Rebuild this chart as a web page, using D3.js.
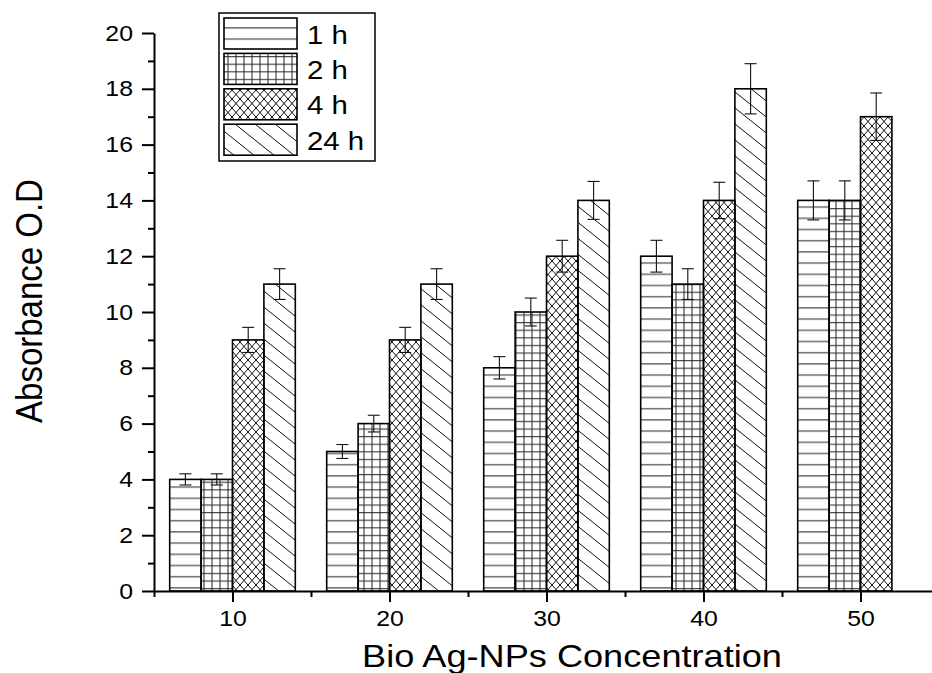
<!DOCTYPE html>
<html>
<head>
<meta charset="utf-8">
<script src="https://cdn.jsdelivr.net/npm/d3@7"></script>
<style>
  html, body { margin: 0; padding: 0; background: #fff; }
  svg { display: block; font-family: "Liberation Sans", Arial, sans-serif; }
</style>
</head>
<body>
<div id="chart"></div>
<script>
// data
const concentrations = [10, 20, 30, 40, 50];
const seriesNames = ["1 h", "2 h", "4 h", "24 h"];
const values1h = [4, 5, 8, 12, 14];
const values2h = [4, 6, 10, 11, 14];
const values4h = [9, 9, 12, 14, 17];
const values24h = [11, 11, 14, 18, null];
const err1h = [0.2, 0.25, 0.4, 0.57, 0.7];
const err2h = [0.2, 0.3, 0.5, 0.55, 0.7];
const err4h = [0.45, 0.45, 0.57, 0.65, 0.85];
const err24h = [0.55, 0.55, 0.68, 0.9, null];
const yTicks = [0, 2, 4, 6, 8, 10, 12, 14, 16, 18, 20];
const yMinorTicks = [1, 3, 5, 7, 9, 11, 13, 15, 17, 19];
const xMinorTicks = [5, 15, 25, 35, 45, 55];

const width = 932, height = 673,
    stretch = 1.13; // the original picture is a bit wider than tall

const allValues = [values1h, values2h, values4h, values24h];
const allErrors = [err1h, err2h, err4h, err24h];
const patternIds = ["pat1h", "pat2h", "pat4h", "pat24h"];

let svg = d3.select("#chart")
  .append("svg")
  .attr("width", width)
  .attr("height", height);

// scales
let x = d3.scaleLinear().domain([5, 55]).range([154, 939]);
let y = d3.scaleLinear().domain([0, 20]).range([591, 33]);
const barW = x(2) - x(0);

// hatch patterns (page-anchored like the original)
let defs = svg.append("defs");

let p1 = defs.append("pattern").attr("id", "pat1h")
  .attr("patternUnits", "userSpaceOnUse").attr("width", 20).attr("height", 11.2);
p1.append("line").attr("x1", 0).attr("x2", 20).attr("y1", 5.5).attr("y2", 5.5)
  .attr("stroke", "#222").attr("stroke-width", 1);

let p2 = defs.append("pattern").attr("id", "pat2h")
  .attr("patternUnits", "userSpaceOnUse").attr("width", 8).attr("height", 7.6);
p2.append("line").attr("x1", 0).attr("x2", 8).attr("y1", 3.5).attr("y2", 3.5)
  .attr("stroke", "#222").attr("stroke-width", 1);
p2.append("line").attr("x1", 4).attr("x2", 4).attr("y1", 0).attr("y2", 7.6)
  .attr("stroke", "#222").attr("stroke-width", 1);

let p4 = defs.append("pattern").attr("id", "pat4h")
  .attr("patternUnits", "userSpaceOnUse").attr("width", 8).attr("height", 9);
p4.append("path").attr("d", "M-1,-1.125L9,10.125M9,-1.125L-1,10.125")
  .attr("stroke", "#111").attr("stroke-width", 1).attr("fill", "none");

let p24 = defs.append("pattern").attr("id", "pat24h")
  .attr("patternUnits", "userSpaceOnUse").attr("width", 20).attr("height", 16);
p24.append("path").attr("d", "M-2,-1.6L22,17.6M-2,14.4L2,17.6M18,-1.6L22,1.6")
  .attr("stroke", "#111").attr("stroke-width", 1).attr("fill", "none");

// bars
let barData = [];
allValues.forEach((vals, s) => {
  vals.forEach((v, i) => {
    if (v === null) return;
    barData.push({series: s, conc: concentrations[i], value: v, err: allErrors[s][i]});
  });
});

svg.selectAll(".bar")
  .data(barData)
  .enter()
  .append("rect")
  .attr("class", "bar")
  .attr("x", d => x(d.conc - 4 + 2 * d.series))
  .attr("y", d => y(d.value))
  .attr("width", barW)
  .attr("height", d => y(0) - y(d.value))
  .attr("fill", d => "url(#" + patternIds[d.series] + ")")
  .attr("stroke", "#000")
  .attr("stroke-width", 1.6);

// error bars
let errG = svg.append("g").attr("stroke", "#111").attr("stroke-width", 1.1);
barData.forEach(d => {
  let cx = x(d.conc - 3 + 2 * d.series);
  errG.append("line").attr("x1", cx).attr("x2", cx)
    .attr("y1", y(d.value + d.err)).attr("y2", y(d.value - d.err));
  [d.value + d.err, d.value - d.err].forEach(v => {
    errG.append("line").attr("x1", cx - 6).attr("x2", cx + 6)
      .attr("y1", y(v)).attr("y2", y(v));
  });
});

// axes
svg.append("g")
  .attr("class", "axis")
  .attr("transform", "translate(" + x(5) + ",0)")
  .call(d3.axisLeft(y).tickValues(yTicks).tickSize(12).tickSizeOuter(0).tickPadding(9));
svg.append("g")
  .attr("class", "axis minor")
  .attr("transform", "translate(" + x(5) + ",0)")
  .call(d3.axisLeft(y).tickValues(yMinorTicks).tickSize(6).tickFormat(""))
  .select(".domain").remove();

svg.append("g")
  .attr("class", "axis")
  .attr("transform", "translate(0," + y(0) + ")")
  .call(d3.axisBottom(x).tickValues(concentrations).tickSize(11).tickSizeOuter(0).tickPadding(8));
svg.append("g")
  .attr("class", "axis minor")
  .attr("transform", "translate(0," + y(0) + ")")
  .call(d3.axisBottom(x).tickValues(xMinorTicks).tickSize(6).tickFormat(""))
  .select(".domain").remove();

svg.selectAll(".axis path, .axis line")
  .attr("stroke", "#000")
  .attr("stroke-width", 2);

// widen tick labels like the original
svg.selectAll(".axis text").each(function() {
  let t = d3.select(this),
      tx = +t.attr("x") || 0,
      ty = +t.attr("y") || 0;
  t.attr("x", null).attr("y", null)
   .attr("transform", "translate(" + tx + "," + ty + ") scale(" + stretch + ",1)")
   .attr("fill", "#000")
   .style("font-size", "22px")
   .style("font-family", "'Liberation Sans', Arial, sans-serif");
});

// axis titles
svg.append("text")
  .attr("transform", "translate(572,667) scale(" + stretch + ",1)")
  .attr("text-anchor", "middle")
  .style("font-size", "32px")
  .text("Bio Ag-NPs Concentration");

svg.append("text")
  .attr("transform", "translate(42,301) rotate(-90) scale(1," + stretch + ")")
  .attr("text-anchor", "middle")
  .style("font-size", "33px")
  .text("Absorbance O.D");

// legend
let legend = svg.append("g");
legend.append("rect")
  .attr("x", 219).attr("y", 13)
  .attr("width", 156).attr("height", 148)
  .attr("fill", "#fff")
  .attr("stroke", "#000")
  .attr("stroke-width", 1.5);

seriesNames.forEach((name, i) => {
  legend.append("rect")
    .attr("x", 224).attr("y", 18 + i * 35.4)
    .attr("width", 73).attr("height", 31)
    .attr("fill", "url(#" + patternIds[i] + ")")
    .attr("stroke", "#000")
    .attr("stroke-width", 1.6);
  legend.append("text")
    .attr("transform", "translate(307," + (44 + i * 35.2) + ") scale(" + stretch + ",1)")
    .style("font-size", "26px")
    .text(name);
});
</script>
</body>
</html>
